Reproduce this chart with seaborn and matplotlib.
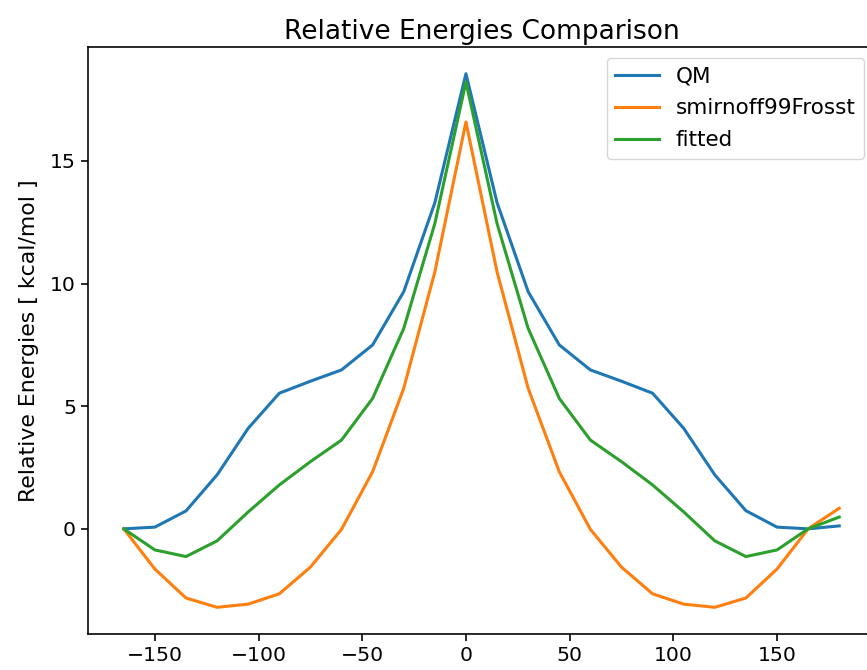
import matplotlib
matplotlib.use("Agg")
import matplotlib.pyplot as plt
import seaborn as sns

angles = list(range(-165, 181, 15))

qm = [0.0, 0.07, 0.73, 2.2, 4.1, 5.53, 6.02, 6.48, 7.5, 9.67, 13.3, 18.56,
      13.3, 9.67, 7.5, 6.48, 6.02, 5.53, 4.1, 2.2, 0.74, 0.07, 0.0, 0.12]
smirnoff = [0.0, -1.64, -2.82, -3.2, -3.07, -2.65, -1.56, -0.02, 2.33, 5.73, 10.48, 16.59,
            10.48, 5.73, 2.33, -0.02, -1.56, -2.65, -3.07, -3.2, -2.82, -1.64, 0.0, 0.84]
fitted = [0.0, -0.86, -1.13, -0.49, 0.69, 1.79, 2.74, 3.62, 5.32, 8.17, 12.45, 18.22,
          12.45, 8.17, 5.32, 3.62, 2.74, 1.79, 0.69, -0.49, -1.13, -0.86, 0.0, 0.48]

series = [("QM", qm, "#1f77b4"),
          ("smirnoff99Frosst", smirnoff, "#ff7f0e"),
          ("fitted", fitted, "#2ca02c")]

s = 1.47
plt.rcParams.update({
    "font.size": 10 * s,
    "axes.linewidth": 0.8 * s,
    "xtick.major.width": 0.8 * s,
    "ytick.major.width": 0.8 * s,
    "xtick.major.size": 3.5 * s,
    "ytick.major.size": 3.5 * s,
})

fig = plt.figure(figsize=(8.67, 6.70), dpi=100)
ax = fig.add_axes([88 / 867, 36 / 670, 787 / 867, 587 / 670])

for name, vals, col in series:
    sns.lineplot(x=angles, y=vals, ax=ax, color=col, linewidth=1.5 * s, label=name)

ax.set_title("Relative Energies Comparison", fontsize=19)
ax.set_ylabel("Relative Energies [ kcal/mol ]", fontsize=15.8, labelpad=8)
ax.set_xticks([-150, -100, -50, 0, 50, 100, 150])
ax.set_yticks([0, 5, 10, 15])
ax.legend(loc="upper right", fontsize=15.5, labelspacing=0.55)

fig.savefig("out.png", dpi=100)
